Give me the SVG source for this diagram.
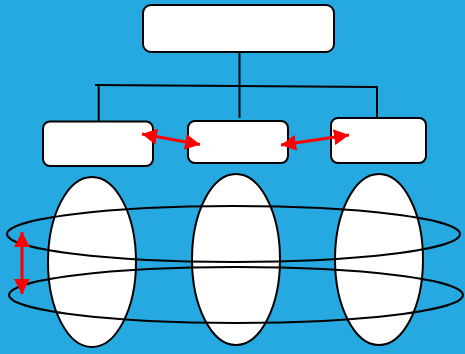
<svg xmlns="http://www.w3.org/2000/svg" width="465" height="354" viewBox="0 0 465 354">
<style>
.box{fill:#fff;stroke:#000;stroke-width:2}
.ln{stroke:#000;stroke-width:2;fill:none}
.ring{fill:none;stroke:#000;stroke-width:2}
.red{stroke:#ff0000;stroke-width:3;fill:none;marker-start:url(#ah);marker-end:url(#ah)}
</style>
<defs>
<marker id="ah" viewBox="0 0 15 16" refX="15" refY="8" markerWidth="15" markerHeight="16" markerUnits="userSpaceOnUse" orient="auto-start-reverse">
<path d="M0,0 L15,8 L0,16 Z" fill="#ff0000"/>
</marker>
</defs>
<rect width="465" height="354" fill="#25a9e0"/>
<g id="connectors">
<line class="ln" x1="239.5" y1="52" x2="239.5" y2="118"/>
<line class="ln" x1="95" y1="85" x2="377" y2="87"/>
<line class="ln" x1="98.7" y1="86" x2="98.7" y2="121"/>
<line class="ln" x1="377" y1="86" x2="377" y2="118"/>
</g>
<g id="top"><rect class="box" x="143" y="5" width="191" height="47" rx="8"/></g>
<g id="left"><rect class="box" x="43" y="121.5" width="110" height="44.5" rx="7"/></g>
<g id="middle"><rect class="box" x="188" y="121" width="100" height="42" rx="7"/></g>
<g id="right"><rect class="box" x="331" y="118" width="95" height="45" rx="7"/></g>
<g id="ellipse-left"><ellipse class="box" cx="92" cy="262" rx="44" ry="85"/></g>
<g id="ellipse-middle"><ellipse class="box" cx="236" cy="259.5" rx="44" ry="85.5"/></g>
<g id="ellipse-right"><ellipse class="box" cx="379" cy="259.5" rx="44" ry="85.5"/></g>
<g id="ring-top"><ellipse class="ring" cx="233.5" cy="234" rx="226.5" ry="28"/></g>
<g id="ring-bottom"><ellipse class="ring" cx="236" cy="295" rx="227" ry="28"/></g>
<g id="arrows">
<line class="red" x1="142" y1="134" x2="200" y2="144.5"/>
<line class="red" x1="281" y1="145" x2="349" y2="135"/>
<line class="red" x1="22" y1="232" x2="22" y2="294"/>
</g>
</svg>
